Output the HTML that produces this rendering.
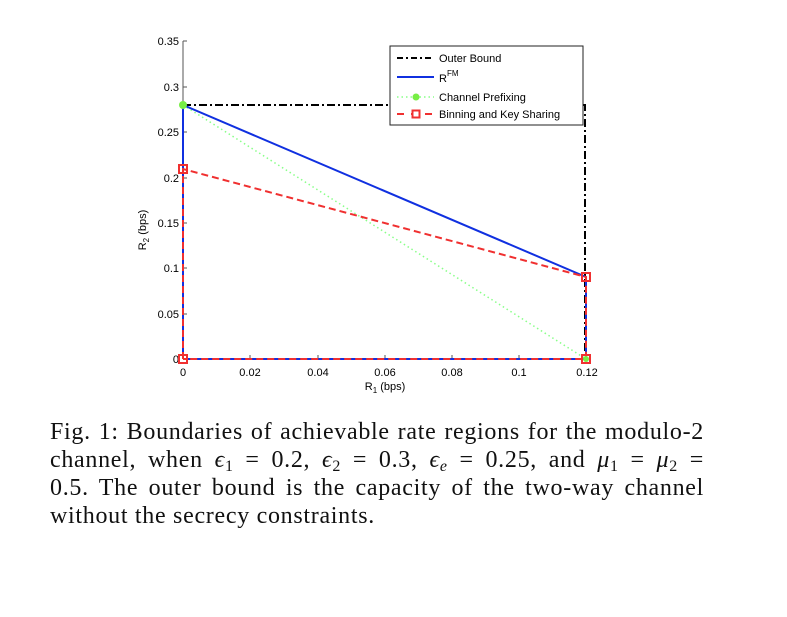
<!DOCTYPE html>
<html><head><style>
body{margin:0;background:#fff;width:787px;height:617px;overflow:hidden;position:relative}
.cap{position:absolute;left:50px;top:418px;width:654px;font-family:"Liberation Serif",serif;font-size:24px;letter-spacing:0.7px;line-height:28px;color:#111}
.cap div{text-align:justify;text-align-last:justify;height:28px;white-space:nowrap}
.cap div.last{text-align-last:left}
.cap i{font-style:italic}
.cap sub{font-size:16px;line-height:0;vertical-align:-4px}
</style></head><body>
<svg width="787" height="400" style="position:absolute;left:0;top:0" font-family="Liberation Sans, sans-serif" font-size="11">
<g stroke="#555" stroke-width="1">
<line x1="183" y1="41" x2="183" y2="359"/><line x1="183" y1="359" x2="587" y2="359"/>
</g>
<g stroke="#555">
<line x1="183" y1="41" x2="187" y2="41"/><line x1="183" y1="87" x2="187" y2="87"/><line x1="183" y1="132" x2="187" y2="132"/><line x1="183" y1="178" x2="187" y2="178"/><line x1="183" y1="223" x2="187" y2="223"/><line x1="183" y1="268" x2="187" y2="268"/><line x1="183" y1="314" x2="187" y2="314"/>
<line x1="250" y1="359" x2="250" y2="355"/><line x1="318" y1="359" x2="318" y2="355"/><line x1="385" y1="359" x2="385" y2="355"/><line x1="452" y1="359" x2="452" y2="355"/><line x1="519" y1="359" x2="519" y2="355"/>
</g>
<g text-anchor="end">
<text x="179" y="45">0.35</text><text x="179" y="91">0.3</text><text x="179" y="136">0.25</text><text x="179" y="182">0.2</text><text x="179" y="227">0.15</text><text x="179" y="272">0.1</text><text x="179" y="318">0.05</text><text x="179" y="363">0</text>
</g>
<g text-anchor="middle">
<text x="183" y="376">0</text><text x="250" y="376">0.02</text><text x="318" y="376">0.04</text><text x="385" y="376">0.06</text><text x="452" y="376">0.08</text><text x="519" y="376">0.1</text><text x="587" y="376">0.12</text>
<text x="385" y="390">R<tspan font-size="8" dy="3">1</tspan><tspan dy="-3"> (bps)</tspan></text>
</g>
<text transform="translate(146,230) rotate(-90)" text-anchor="middle">R<tspan font-size="8" dy="3">2</tspan><tspan dy="-3"> (bps)</tspan></text>
<polyline points="183,105 585,105 585,359" fill="none" stroke="#000" stroke-width="2" stroke-dasharray="8,3,2,3"/>
<line x1="183" y1="105" x2="586" y2="359" stroke="#8f8" stroke-width="1.5" stroke-dasharray="1.5,3"/>
<polyline points="183,359 183,105 586,277 586,359 183,359" fill="none" stroke="#1030e0" stroke-width="2"/>
<polyline points="183,359 183,169 586,277 586,359 183,359" fill="none" stroke="#f03030" stroke-width="2" stroke-dasharray="7,4"/>
<g fill="none" stroke="#f03030" stroke-width="2">
<rect x="179" y="165" width="8" height="8"/><rect x="582" y="273" width="8" height="8"/><rect x="179" y="355" width="8" height="8"/><rect x="582" y="355" width="8" height="8"/>
</g>
<circle cx="183" cy="105" r="4" fill="#7e4"/><circle cx="586" cy="359" r="3" fill="#7e4"/>
<rect x="390" y="46" width="193" height="79" fill="#fff" stroke="#222"/>
<line x1="397" y1="58" x2="434" y2="58" stroke="#000" stroke-width="2" stroke-dasharray="6,3,2,3"/>
<text x="439" y="62">Outer Bound</text>
<line x1="397" y1="77" x2="434" y2="77" stroke="#1030e0" stroke-width="2"/>
<text x="439" y="82">R<tspan font-size="8" dy="-6">FM</tspan></text>
<line x1="397" y1="97" x2="434" y2="97" stroke="#8f8" stroke-width="1.5" stroke-dasharray="1.5,3"/>
<circle cx="416" cy="97" r="3.5" fill="#7e4"/>
<text x="439" y="101">Channel Prefixing</text>
<line x1="397" y1="114" x2="434" y2="114" stroke="#f03030" stroke-width="2" stroke-dasharray="7,7"/>
<rect x="412.5" y="110.5" width="7" height="7" fill="#fff" stroke="#f03030" stroke-width="2"/>
<text x="439" y="118">Binning and Key Sharing</text>
</svg>
<div class="cap">
<div>Fig. 1: Boundaries of achievable rate regions for the modulo-2</div>
<div>channel, when <i>ϵ</i><sub>1</sub> = 0.2, <i>ϵ</i><sub>2</sub> = 0.3, <i>ϵ<sub>e</sub></i> = 0.25, and <i>μ</i><sub>1</sub> = <i>μ</i><sub>2</sub> =</div>
<div>0.5. The outer bound is the capacity of the two-way channel</div>
<div class="last">without the secrecy constraints.</div>
</div>
</body></html>
